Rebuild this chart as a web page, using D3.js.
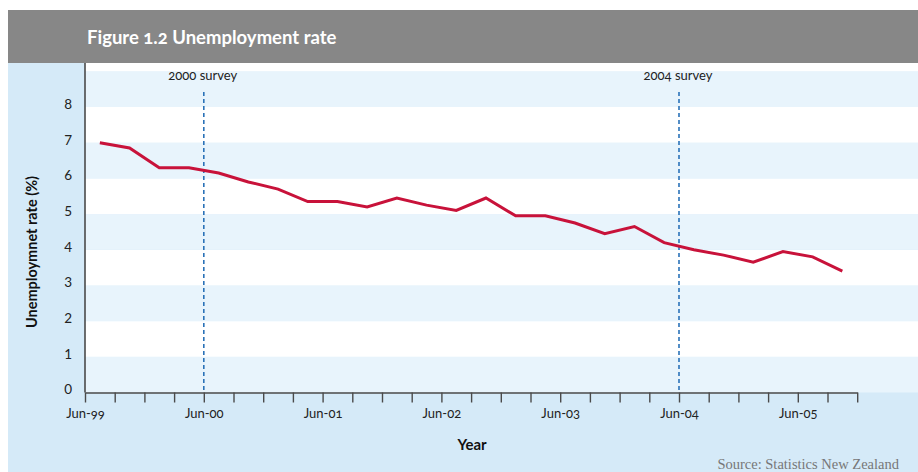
<!DOCTYPE html>
<html>
<head>
<meta charset="utf-8">
<script src="https://cdn.jsdelivr.net/npm/d3@7"></script>
<style>
  html, body { margin: 0; padding: 0; background: #ffffff; }
  svg { display: block; font-family: Lato, "Open Sans", sans-serif; }
  .onum { font-variant-numeric: oldstyle-nums; font-feature-settings: "onum" 1; }
</style>
</head>
<body>
<svg id="chart" width="918" height="472"></svg>
<script>
// Quarterly unemployment rate, June 1999 to September 2005
const title = "Figure 1.2 Unemployment rate";
const quarters = [
  "Jun-99", "Sep-99", "Dec-99", "Mar-00",
  "Jun-00", "Sep-00", "Dec-00", "Mar-01",
  "Jun-01", "Sep-01", "Dec-01", "Mar-02",
  "Jun-02", "Sep-02", "Dec-02", "Mar-03",
  "Jun-03", "Sep-03", "Dec-03", "Mar-04",
  "Jun-04", "Sep-04", "Dec-04", "Mar-05",
  "Jun-05", "Sep-05"
];
const rates = [
  7.0, 6.85, 6.3, 6.3,
  6.15, 5.9, 5.7, 5.35,
  5.35, 5.2, 5.45, 5.25,
  5.1, 5.45, 4.95, 4.95,
  4.75, 4.45, 4.65, 4.2,
  4.0, 3.85, 3.65, 3.95,
  3.8, 3.4
];
const yTicks = [0, 1, 2, 3, 4, 5, 6, 7, 8];
const xTickLabels = ["Jun-99", "Jun-00", "Jun-01", "Jun-02", "Jun-03", "Jun-04", "Jun-05"];
const surveyQuarters = ["Jun-00", "Jun-04"];
const surveyLabels = ["2000 survey", "2004 survey"];
const yTitle = "Unemploymnet rate (%)";
const xTitle = "Year";
const source = "Source: Statistics New Zealand";

// Layout
const W = 918, H = 472;
const frameL = 8, frameT = 10, headerB = 63;
const plotL = 85, plotR = 918, plotB = 392.5, axisEnd = 857.2;

const svg = d3.select("#chart");

// Header bar and panel
svg.append("rect").attr("x", frameL).attr("y", frameT)
  .attr("width", W - frameL).attr("height", headerB - frameT).attr("fill", "#878787");
svg.append("rect").attr("x", frameL).attr("y", headerB)
  .attr("width", W - frameL).attr("height", H - headerB).attr("fill", "#d5eaf8");
svg.append("text").attr("class", "onum")
  .attr("x", 87).attr("y", 43.5)
  .attr("fill", "#ffffff").attr("font-weight", 700).attr("font-size", "18.5px")
  .text(title);

// Scales
const x = d3.scaleBand().domain(quarters).range([plotL, axisEnd]).paddingInner(0).paddingOuter(0);
const xi = d3.scaleLinear().domain([0, quarters.length]).range([plotL, axisEnd]);
const y = d3.scaleLinear().domain([0, 8]).range([plotB, 107]);
const yMax = y.invert(headerB);

// Alternating horizontal bands
const bands = d3.range(0, Math.ceil(yMax));
svg.append("g").selectAll("rect").data(bands).join("rect")
  .attr("x", plotL).attr("width", plotR - plotL)
  .attr("y", k => y(Math.min(k + 1, yMax)))
  .attr("height", k => y(k) - y(Math.min(k + 1, yMax)))
  .attr("fill", k => k % 2 === 0 ? "#e8f4fc" : "#ffffff");

// Survey markers
const survey = svg.append("g");
survey.selectAll("line").data(surveyQuarters).join("line")
  .attr("x1", q => x(q)).attr("x2", q => x(q))
  .attr("y1", 92).attr("y2", plotB)
  .attr("stroke", "#2a72b8").attr("stroke-width", 1.6)
  .attr("stroke-dasharray", "4,3");
survey.selectAll("text").data(surveyLabels).join("text")
  .attr("class", "onum")
  .attr("x", (d, i) => x(surveyQuarters[i]) - 1).attr("y", 79.5)
  .attr("text-anchor", "middle").attr("font-size", "13px").attr("fill", "#222")
  .text(d => d);

// Unemployment line
const line = d3.line()
  .x((d, i) => x(quarters[i]) + x.bandwidth() / 2)
  .y(d => y(d));
svg.append("path").datum(rates)
  .attr("d", line)
  .attr("fill", "none").attr("stroke", "#c8123a").attr("stroke-width", 3)
  .attr("stroke-linejoin", "miter");

// Y axis
const yAxis = svg.append("g").attr("transform", `translate(${plotL},0)`)
  .call(d3.axisLeft(y).tickValues(yTicks).tickSize(0).tickPadding(13));
yAxis.select(".domain").remove();
yAxis.selectAll("text").attr("font-family", "Lato, 'Open Sans', sans-serif")
  .attr("font-size", "13.5px").attr("fill", "#222").attr("dy", "0.1em");
svg.append("line").attr("x1", plotL).attr("x2", plotL)
  .attr("y1", headerB).attr("y2", plotB)
  .attr("stroke", "#4a4a4a").attr("stroke-width", 1.6);

// X axis: ticks at each quarter boundary, labels each June
const xAxis = svg.append("g").attr("transform", `translate(0,${plotB})`)
  .call(d3.axisBottom(xi)
    .tickValues(d3.range(quarters.length + 1))
    .tickSize(10).tickSizeOuter(0).tickPadding(6)
    .tickFormat(i => xTickLabels.includes(quarters[i]) ? quarters[i] : ""));
xAxis.select(".domain").attr("stroke", "#4a4a4a").attr("stroke-width", 1.6);
xAxis.selectAll(".tick line").attr("stroke", "#4a4a4a").attr("stroke-width", 1.4);
xAxis.selectAll("text").attr("class", "onum")
  .attr("font-family", "Lato, 'Open Sans', sans-serif")
  .attr("font-size", "13px").attr("fill", "#222");

// Axis titles
svg.append("text")
  .attr("transform", "translate(37,252) rotate(-90)")
  .attr("text-anchor", "middle").attr("font-weight", 700).attr("font-size", "14.5px")
  .attr("fill", "#111").text(yTitle);
svg.append("text")
  .attr("x", 472).attr("y", 450)
  .attr("text-anchor", "middle").attr("font-weight", 700).attr("font-size", "15px")
  .attr("fill", "#111").text(xTitle);

// Source note
svg.append("text")
  .attr("x", 899).attr("y", 469)
  .attr("text-anchor", "end").attr("font-family", "'Liberation Serif', 'DejaVu Serif', serif")
  .attr("font-size", "14.5px").attr("fill", "#777").text(source);
</script>
</body>
</html>
